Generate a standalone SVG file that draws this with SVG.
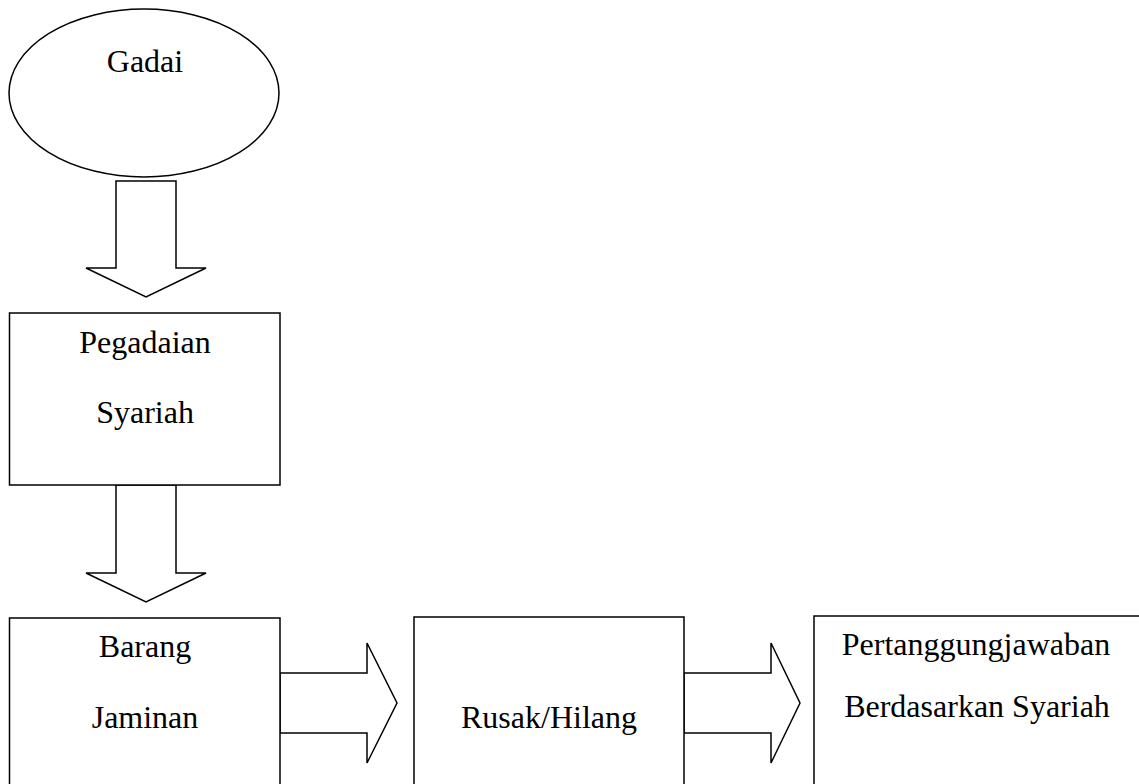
<svg xmlns="http://www.w3.org/2000/svg" width="1139" height="784" viewBox="0 0 1139 784">
<style>
.s{fill:#fff;stroke:#000;stroke-width:1.5}
.t{font-family:"Liberation Serif","Times New Roman",serif;font-size:32px;fill:#000;text-anchor:middle}
</style>
<rect width="1139" height="784" fill="#fff"/>
<g id="connectors">
<polygon class="s" points="116,181 176,181 176,268 206,268 146,297 86,268 116,268"/>
<polygon class="s" points="116,485 176,485 176,573 206,573 146,602 86,573 116,573"/>
<polygon class="s" points="280,673 367,673 367,643 397,703 367,763 367,733 280,733"/>
<polygon class="s" points="684,673 771,673 771,643 800,703 771,763 771,733 684,733"/>
</g>
<g id="gadai">
<ellipse class="s" cx="144" cy="93" rx="135" ry="84"/>
<text class="t" x="145" y="72">Gadai</text>
</g>
<g id="pegadaian">
<rect class="s" x="9.5" y="313" width="270.5" height="172"/>
<text class="t" x="145" y="353">Pegadaian</text>
<text class="t" x="145" y="423">Syariah</text>
</g>
<g id="barang">
<rect class="s" x="9.5" y="618" width="270.5" height="180"/>
<text class="t" x="145" y="657">Barang</text>
<text class="t" x="145" y="728">Jaminan</text>
</g>
<g id="rusak">
<rect class="s" x="414" y="617" width="270" height="180"/>
<text class="t" x="549" y="728">Rusak/Hilang</text>
</g>
<g id="pertanggungjawaban">
<rect class="s" x="814" y="616" width="340" height="180"/>
<text class="t" x="976" y="655">Pertanggungjawaban</text>
<text class="t" x="977" y="717">Berdasarkan Syariah</text>
</g>
</svg>
